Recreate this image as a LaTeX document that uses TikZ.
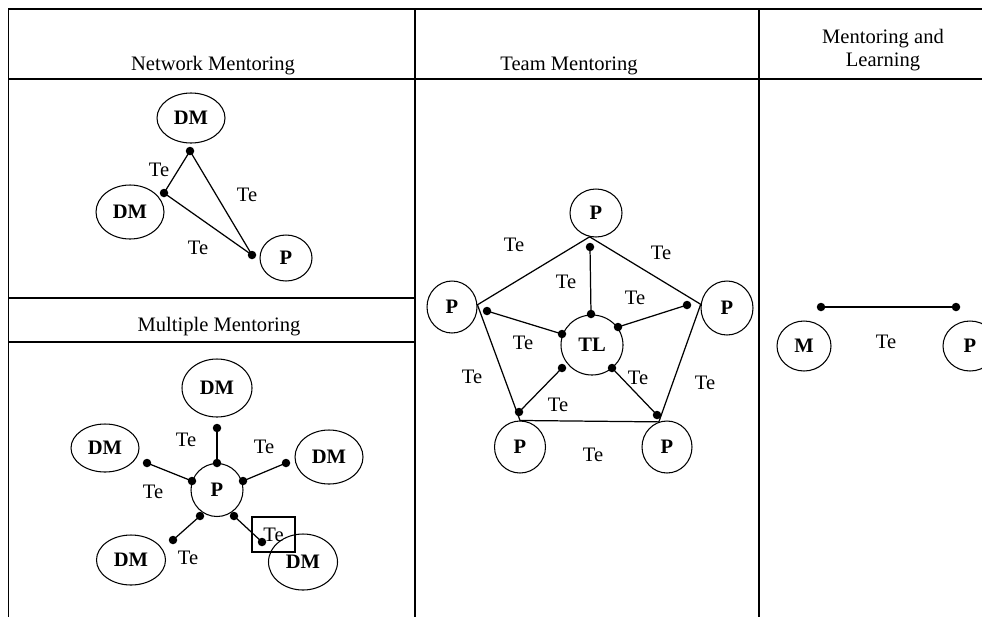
\documentclass[tikz,border=0pt]{standalone}
\usepackage{fontspec}
\setmainfont{Liberation Serif}
\usetikzlibrary{shapes.geometric}
\newcommand\pxu{0.02cm}
\tikzset{
  txt/.style={font=\fontsize{11.7}{13}\selectfont, inner sep=0pt},
  lbl/.style={txt, anchor=center},
  hdr/.style={txt, anchor=base},
  ell/.style={ellipse, draw, line width=0.6pt, inner sep=0pt,
              font=\fontsize{11.7}{13}\selectfont\bfseries},
  dotn/.style={circle, fill=black, inner sep=0pt, minimum size=8.5*\pxu},
  link/.style={line width=0.7pt},
  frame/.style={line width=0.85pt}
}
\begin{document}
\begin{tikzpicture}[x=0.02cm, y=-0.02cm]
\clip (0,0) rectangle (982,616);
\fill[white] (0,0) rectangle (982,616);

% frame
\draw[frame] (8,9) -- (990,9);
\draw[frame] (8,79) -- (990,79);
\draw[frame] (8.5,9) -- (8.5,620);
\draw[frame] (415,9) -- (415,620);
\draw[frame] (759,9) -- (759,620);
\draw[frame] (8,298) -- (415,298);
\draw[frame] (8,342) -- (415,342);

% headers
\node[hdr] (h1) at (213,70) {Network Mentoring};
\node[hdr] (h2) at (569,70) {Team Mentoring};
\node[hdr] (h3) at (219,331) {Multiple Mentoring};
\node[txt, align=center] (h4) at (883,50) {Mentoring and\\Learning};

% ---------- Network Mentoring
\node[ell, minimum width=68*\pxu, minimum height=50*\pxu] (ndmA) at (191,118) {DM};
\node[ell, minimum width=68*\pxu, minimum height=54*\pxu] (ndmB) at (130,212) {DM};
\node[ell, minimum width=52*\pxu, minimum height=46*\pxu] (np) at (286,258) {P};
\node[dotn] (nd1) at (190,151) {};
\node[dotn] (nd2) at (164,193) {};
\node[dotn] (nd3) at (252,255) {};
\draw[link] (nd1.center) -- (nd2.center);
\draw[link] (nd1.center) -- (nd3.center);
\draw[link] (nd2.center) -- (nd3.center);
\node[lbl] (nt1) at (159,170) {Te};
\node[lbl] (nt2) at (247,195) {Te};
\node[lbl] (nt3) at (198,248) {Te};

% ---------- Multiple Mentoring
\node[ell, minimum width=70*\pxu, minimum height=58*\pxu] (mdmT) at (217,388) {DM};
\node[ell, minimum width=68*\pxu, minimum height=48*\pxu] (mdmL) at (105,448) {DM};
\node[ell, minimum width=68*\pxu, minimum height=54*\pxu] (mdmR) at (329,457) {DM};
\node[ell, minimum width=69*\pxu, minimum height=50*\pxu] (mdmBL) at (131,560) {DM};
\node[ell, minimum width=69*\pxu, minimum height=56*\pxu] (mdmBR) at (303,562) {DM};
\node[ell, minimum width=52*\pxu, minimum height=53*\pxu] (mp) at (217,490) {P};
\node[dotn] (m1o) at (217,428) {};
\node[dotn] (m1i) at (217,463) {};
\node[dotn] (m2o) at (147,463) {};
\node[dotn] (m2i) at (192,481) {};
\node[dotn] (m3o) at (286,463) {};
\node[dotn] (m3i) at (243,481) {};
\node[dotn] (m4i) at (200,516) {};
\node[dotn] (m4o) at (173,540) {};
\node[dotn] (m5i) at (234,516) {};
\node[dotn] (m5o) at (262,542) {};
\draw[link] (m1o.center) -- (m1i.center);
\draw[link] (m2o.center) -- (m2i.center);
\draw[link] (m3o.center) -- (m3i.center);
\draw[link] (m4o.center) -- (m4i.center);
\draw[link] (m5o.center) -- (m5i.center);
\node[lbl] (mt1) at (186,440) {Te};
\node[lbl] (mt2) at (264,447) {Te};
\node[lbl] (mt3) at (153,492) {Te};
\node[lbl] (mt4) at (188,558) {Te};
\node[lbl, draw, line width=0.7pt, minimum width=43*\pxu, minimum height=35*\pxu] (mt5) at (273.5,534.5) {Te};

% ---------- Team Mentoring
\node[ell, minimum width=52*\pxu, minimum height=48*\pxu] (tP) at (596,213) {P};
\node[ell, minimum width=50*\pxu, minimum height=52*\pxu] (lP) at (452,307) {P};
\node[ell, minimum width=52*\pxu, minimum height=54*\pxu] (rP) at (727,308) {P};
\node[ell, minimum width=51*\pxu, minimum height=52*\pxu] (blP) at (520,447) {P};
\node[ell, minimum width=50*\pxu, minimum height=52*\pxu] (brP) at (667,447) {P};
\node[ell, minimum width=62*\pxu, minimum height=60*\pxu] (tl) at (592,345) {TL};
\draw[link] (tP.255) -- (lP.5) -- (blP.north) -- (brP.108) -- (rP.172) -- (tP.255);
\node[dotn] (t1o) at (590,247) {};
\node[dotn] (t1i) at (591,314) {};
\node[dotn] (t2o) at (487,311) {};
\node[dotn] (t2i) at (562,334) {};
\node[dotn] (t3o) at (687,305) {};
\node[dotn] (t3i) at (618,327) {};
\node[dotn] (t4i) at (562,368) {};
\node[dotn] (t4o) at (519,412) {};
\node[dotn] (t5i) at (612,368) {};
\node[dotn] (t5o) at (657,415) {};
\draw[link] (t1o.center) -- (t1i.center);
\draw[link] (t2o.center) -- (t2i.center);
\draw[link] (t3o.center) -- (t3i.center);
\draw[link] (t4o.center) -- (t4i.center);
\draw[link] (t5o.center) -- (t5i.center);
\node[lbl] (tt1) at (514,245) {Te};
\node[lbl] (tt2) at (661,253) {Te};
\node[lbl] (tt3) at (566,282) {Te};
\node[lbl] (tt4) at (635,298) {Te};
\node[lbl] (tt5) at (523,343) {Te};
\node[lbl] (tt6) at (472,377) {Te};
\node[lbl] (tt7) at (638,378) {Te};
\node[lbl] (tt8) at (705,383) {Te};
\node[lbl] (tt9) at (558,405) {Te};
\node[lbl] (tt10) at (593,455) {Te};

% ---------- Mentoring and Learning
\node[ell, minimum width=54*\pxu, minimum height=50*\pxu] (lm) at (804,346) {M};
\node[ell, minimum width=54*\pxu, minimum height=50*\pxu] (lp) at (970,346) {P};
\node[dotn] (ld1) at (821,307) {};
\node[dotn] (ld2) at (956,307) {};
\draw[link] (ld1.center) -- (ld2.center);
\node[lbl] (lt) at (886,342) {Te};
\end{tikzpicture}
\end{document}
